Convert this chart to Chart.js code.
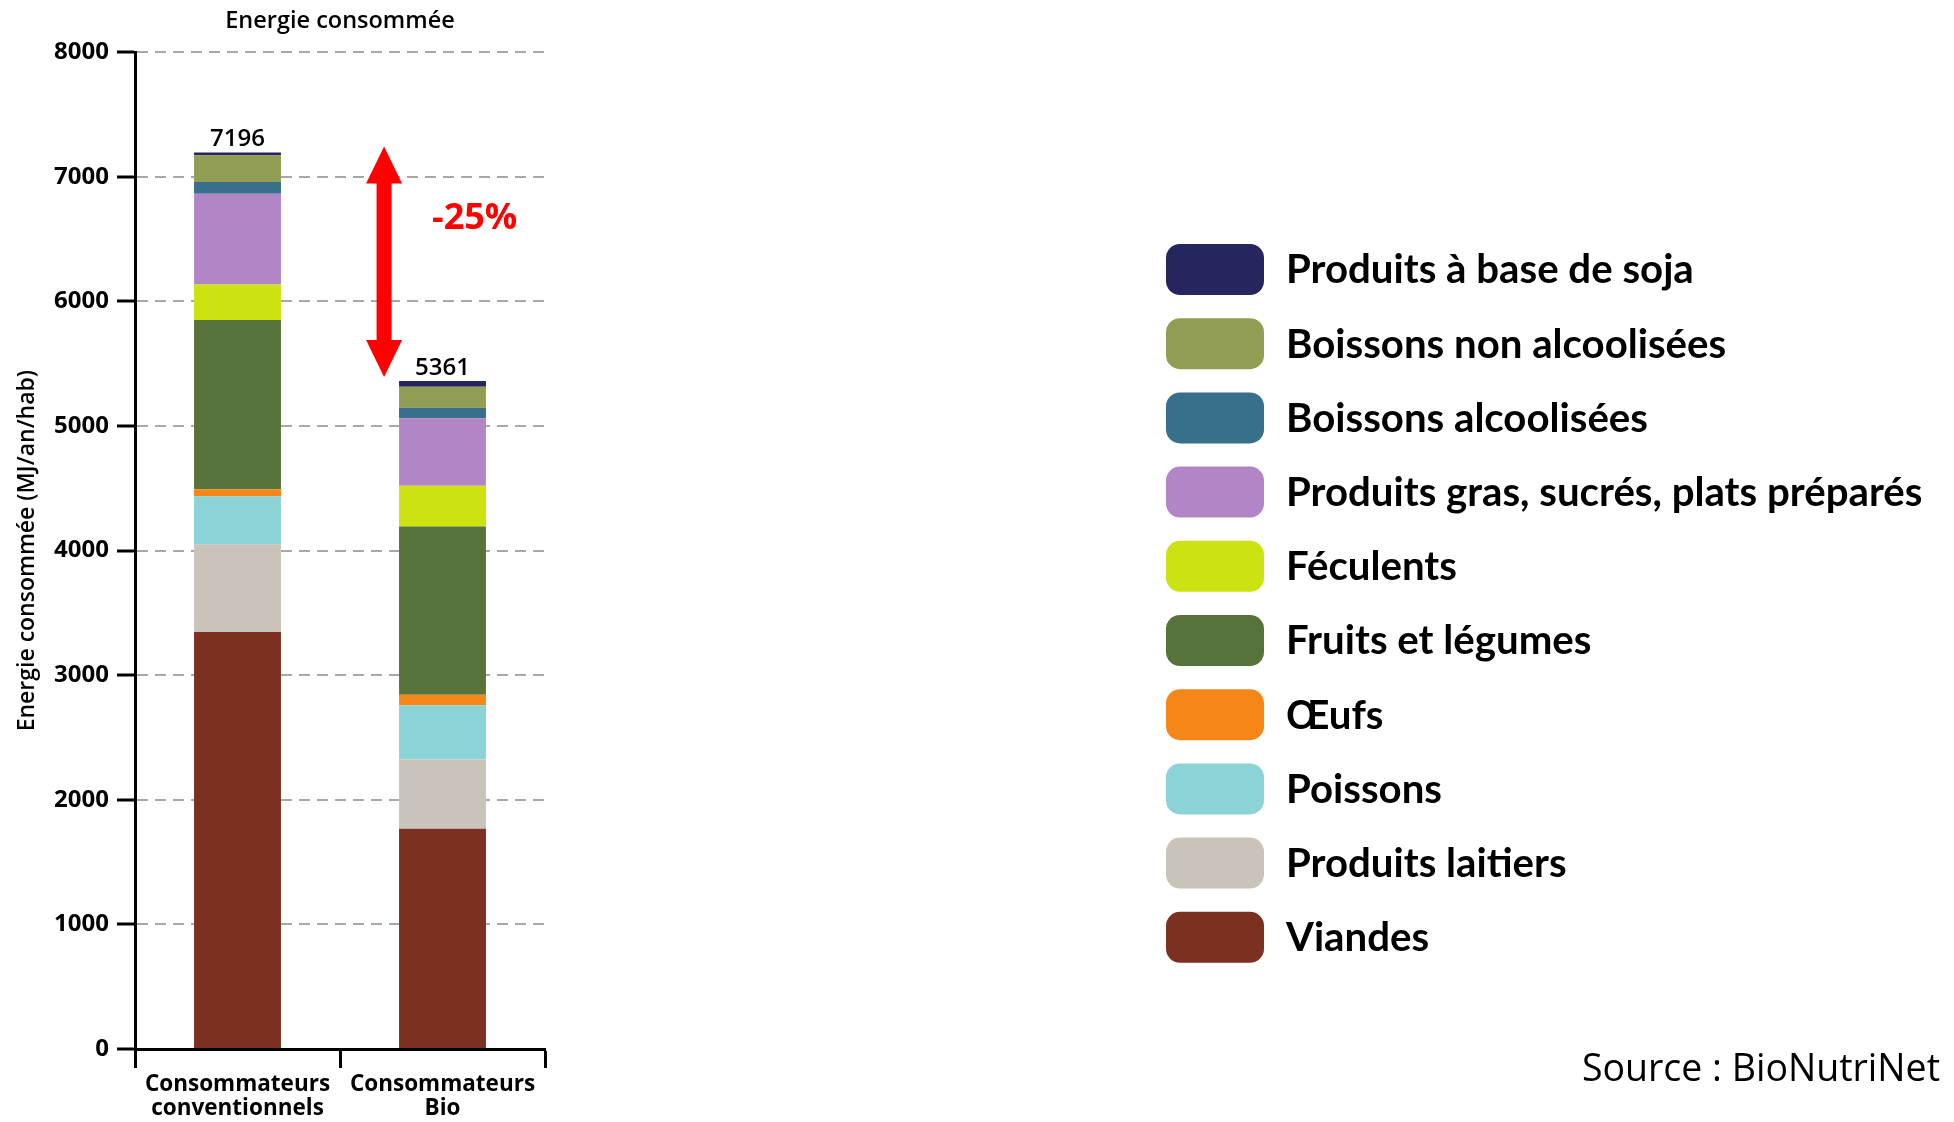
<!DOCTYPE html>
<html lang="fr">
<head>
<meta charset="utf-8">
<title>Energie consommée</title>
<script src="https://cdn.jsdelivr.net/npm/chart.js@4.4.1/dist/chart.umd.min.js"></script>
<style>
  html, body { margin: 0; padding: 0; background: #ffffff; }
  #wrap { width: 1954px; height: 1122px; position: relative; }
</style>
</head>
<body>
<div id="wrap"><canvas id="chart" width="1954" height="1122"></canvas></div>
<script>
// Categories (two-line axis labels)
const CATEGORIES = [['Consommateurs', 'conventionnels'], ['Consommateurs', 'Bio']];

// Y axis tick values (MJ/an/hab)
const Y_TICKS = [0, 1000, 2000, 3000, 4000, 5000, 6000, 7000, 8000];

// Energy per food group, [conventionnels, bio], stacked bottom -> top
const VIANDES              = [3347, 1767];
const PRODUITS_LAITIERS    = [703, 557];
const POISSONS             = [387, 435];
const OEUFS                = [55, 84];
const FRUITS_LEGUMES       = [1359, 1350];
const FECULENTS            = [285, 328];
const PRODUITS_GRAS        = [728, 542];
const BOISSONS_ALCOOLISEES = [95, 84];
const BOISSONS_NON_ALCOOL  = [213, 168];
const PRODUITS_SOJA        = [24, 46];

const SERIES_NAMES = [
  'Viandes', 'Produits laitiers', 'Poissons', 'Œufs', 'Fruits et légumes',
  'Féculents', 'Produits gras, sucrés, plats préparés', 'Boissons alcoolisées',
  'Boissons non alcoolisées', 'Produits à base de soja'
];
const SERIES_VALUES = [
  VIANDES, PRODUITS_LAITIERS, POISSONS, OEUFS, FRUITS_LEGUMES,
  FECULENTS, PRODUITS_GRAS, BOISSONS_ALCOOLISEES, BOISSONS_NON_ALCOOL, PRODUITS_SOJA
];
const SERIES_COLORS = [
  '#7c3022', '#cac3b9', '#8cd3d8', '#f48718', '#58733a',
  '#cde211', '#b286c6', '#386f8a', '#929d54', '#25265e'
];

// Annotation text for the change between the two totals
const DIFF_LABEL = '-25%';
const SOURCE_TEXT = 'Source : BioNutriNet';

const datasets = SERIES_NAMES.map((name, i) => ({
  label: name,
  data: SERIES_VALUES[i],
  backgroundColor: SERIES_COLORS[i],
  borderWidth: 0,
  categoryPercentage: 1.0,
  barPercentage: 0.424
}));

const CHART_FONT = "'Open Sans', 'Noto Sans', sans-serif";
const LEGEND_FONT = "Lato, 'Open Sans', sans-serif";

const stackTotal = (chart, i) => chart.data.datasets.reduce((s, d) => s + d.data[i], 0);

// Total value written above each stacked bar
const totalsPlugin = {
  id: 'stackTotals',
  afterDatasetsDraw(chart) {
    const { ctx } = chart;
    const xs = chart.scales.x, ys = chart.scales.y;
    ctx.save();
    ctx.font = `600 24px ${CHART_FONT}`;
    ctx.fillStyle = '#000';
    ctx.textAlign = 'center';
    ctx.textBaseline = 'alphabetic';
    CATEGORIES.forEach((_, i) => {
      const total = stackTotal(chart, i);
      ctx.fillText(String(total), xs.getPixelForValue(i), ys.getPixelForValue(total) - 6);
    });
    ctx.restore();
  }
};

// Red double-headed arrow between the two bar tops, with its percentage
const diffArrowPlugin = {
  id: 'diffArrow',
  afterDatasetsDraw(chart, args, opts) {
    const { ctx } = chart;
    const xs = chart.scales.x, ys = chart.scales.y;
    const x = xs.getPixelForValue(opts.position);
    const yTop = ys.getPixelForValue(stackTotal(chart, 0)) - 6;
    const yBot = ys.getPixelForValue(stackTotal(chart, 1)) - 4;
    const shaft = 15, headW = 36, headH = 37;
    ctx.save();
    ctx.fillStyle = opts.color;
    ctx.beginPath();
    ctx.moveTo(x, yTop);
    ctx.lineTo(x + headW / 2, yTop + headH);
    ctx.lineTo(x + shaft / 2, yTop + headH);
    ctx.lineTo(x + shaft / 2, yBot - headH);
    ctx.lineTo(x + headW / 2, yBot - headH);
    ctx.lineTo(x, yBot);
    ctx.lineTo(x - headW / 2, yBot - headH);
    ctx.lineTo(x - shaft / 2, yBot - headH);
    ctx.lineTo(x - shaft / 2, yTop + headH);
    ctx.lineTo(x - headW / 2, yTop + headH);
    ctx.closePath();
    ctx.fill();
    ctx.font = `700 36px ${CHART_FONT}`;
    ctx.textAlign = 'left';
    ctx.textBaseline = 'middle';
    ctx.fillText(opts.text, x + 48, yTop + 72);
    ctx.restore();
  }
};

// Legend block to the right of the plot, plus source line
const sideLegendPlugin = {
  id: 'sideLegend',
  afterDraw(chart, args, opts) {
    const { ctx } = chart;
    const items = chart.data.datasets.slice().reverse();
    ctx.save();
    ctx.font = `700 ${opts.fontSize}px ${LEGEND_FONT}`;
    ctx.textAlign = 'left';
    ctx.textBaseline = 'middle';
    items.forEach((ds, k) => {
      const top = opts.top + k * opts.step;
      ctx.fillStyle = ds.backgroundColor;
      ctx.beginPath();
      ctx.roundRect(opts.left, top, opts.boxW, opts.boxH, opts.radius);
      ctx.fill();
      ctx.fillStyle = '#000';
      ctx.fillText(ds.label, opts.textX, top + opts.boxH / 2 + 1);
    });
    ctx.font = `400 ${opts.sourceSize}px ${CHART_FONT}`;
    ctx.textAlign = 'right';
    ctx.textBaseline = 'alphabetic';
    ctx.fillStyle = '#000';
    ctx.fillText(SOURCE_TEXT, opts.sourceX, opts.sourceY);
    ctx.restore();
  }
};

new Chart(document.getElementById('chart'), {
  type: 'bar',
  data: { labels: CATEGORIES, datasets },
  plugins: [totalsPlugin, diffArrowPlugin, sideLegendPlugin],
  options: {
    responsive: false,
    animation: false,
    events: [],
    layout: { padding: { left: 0, right: 1409, top: 0, bottom: 0 } },
    plugins: {
      legend: { display: false },
      tooltip: { enabled: false },
      title: {
        display: true,
        fullSize: false,
        text: 'Energie consommée',
        color: '#000',
        font: { family: CHART_FONT, size: 23.5, weight: '600', lineHeight: 1.2 },
        padding: { top: 7, bottom: 17 }
      },
      diffArrow: { position: 0.715, color: '#ff0000', text: DIFF_LABEL },
      sideLegend: {
        left: 1166, top: 244, step: 74.2, boxW: 98, boxH: 51, radius: 14,
        textX: 1286, fontSize: 40.2,
        sourceX: 1940, sourceY: 1081, sourceSize: 37.5
      }
    },
    scales: {
      x: {
        stacked: true,
        grid: {
          offset: true, drawOnChartArea: false, drawTicks: true,
          tickLength: 19, tickColor: '#000', tickWidth: 3
        },
        border: { display: true, color: '#000', width: 3 },
        ticks: {
          color: '#000', padding: 5, maxRotation: 0, autoSkip: false,
          font: { family: CHART_FONT, size: 22.5, weight: '700', lineHeight: 1.05 }
        },
        afterFit: (scale) => { scale.height = 73; }
      },
      y: {
        stacked: true,
        min: 0,
        max: 8000,
        afterBuildTicks: (scale) => { scale.ticks = Y_TICKS.map(v => ({ value: v })); },
        grid: {
          color: '#a8a8a8', lineWidth: 2,
          tickColor: '#000', tickWidth: 3, tickLength: 18, tickBorderDash: []
        },
        border: { display: true, color: '#000', width: 3, dash: [11, 7] },
        ticks: {
          color: '#000', padding: 8,
          callback: (v) => String(v),
          font: { family: CHART_FONT, size: 24, weight: '700' }
        },
        title: {
          display: true,
          text: 'Energie consommée (MJ/an/hab)',
          color: '#000',
          font: { family: CHART_FONT, size: 23, weight: '600', lineHeight: 1.2 },
          padding: { top: 14, bottom: 0 }
        },
        afterFit: (scale) => { scale.width = 135; }
      }
    }
  }
});
</script>
</body>
</html>
